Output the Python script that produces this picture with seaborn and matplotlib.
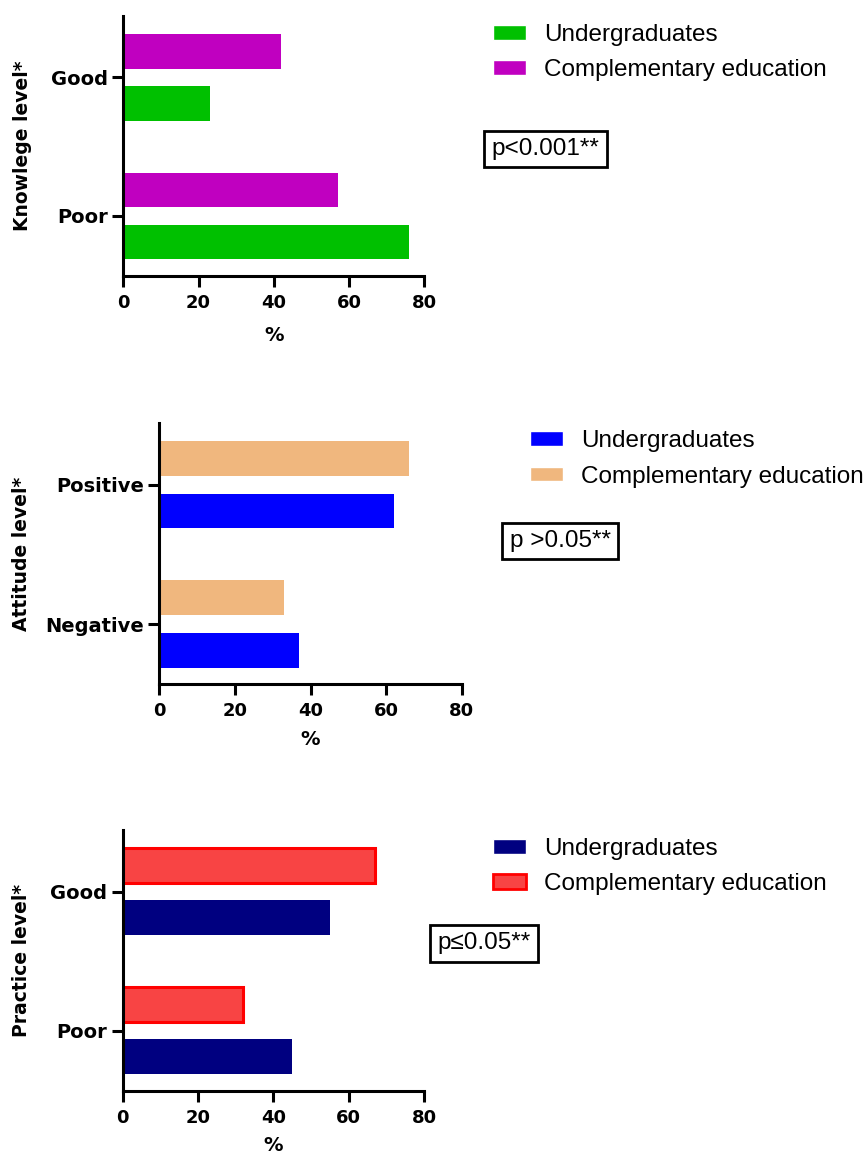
import matplotlib
matplotlib.use('Agg')
import matplotlib.pyplot as plt
import matplotlib.transforms as mtrans
from matplotlib.patches import Patch
import seaborn as sns
import pandas as pd

# values (%)
groups = ['Undergraduates', 'Complementary education']

knowledge_levels = ['Good', 'Poor']
knowledge_undergrad = [23, 76]
knowledge_complementary = [42, 57]

attitude_levels = ['Positive', 'Negative']
attitude_undergrad = [62, 37]
attitude_complementary = [66, 33]

practice_levels = ['Good', 'Poor']
practice_undergrad = [55, 45]
practice_complementary = [67, 32]

x_ticks = [0, 20, 40, 60, 80]
p_texts = ['p<0.001**', 'p >0.05**', 'p\u22640.05**']

sns.set_theme(style='ticks')
plt.rcParams['font.family'] = ['DejaVu Sans']
plt.rcParams['text.color'] = 'black'
plt.rcParams['axes.labelcolor'] = 'black'
plt.rcParams['xtick.color'] = 'black'
plt.rcParams['ytick.color'] = 'black'

W, H = 867, 1157
fig = plt.figure(figsize=(W / 100, H / 100), dpi=100)


def px_rect(l, t, r, b):
    return [l / W, 1 - b / H, (r - l) / W, (b - t) / H]


def draw_panel(rect, levels, ug, comp, ug_color, comp_color, ylabel,
               ylab_x, xlab_top, leg_x, leg_y, ptext, pbox_xy, comp_edge=None):
    ax = fig.add_axes(px_rect(*rect))
    df = pd.DataFrame({
        'level': levels * 2,
        'group': [groups[0]] * len(levels) + [groups[1]] * len(levels),
        'pct': ug + comp,
    })
    sns.barplot(data=df, x='pct', y='level', hue='group', order=levels,
                hue_order=[groups[1], groups[0]],
                palette={groups[0]: ug_color, groups[1]: comp_color},
                width=0.75, gap=0.33, saturation=1, linewidth=0,
                orient='h', legend=False, ax=ax)
    if comp_edge is not None:
        for bar in ax.containers[0]:
            bar.set_edgecolor(comp_edge)
            bar.set_linewidth(2.2)

    ax.set_xlim(0, 80)
    ax.set_ylim(1.433, -0.443)
    ax.set_xticks(x_ticks)
    sns.despine(ax=ax)
    for s in ['left', 'bottom']:
        ax.spines[s].set_linewidth(2.2)
        ax.spines[s].set_color('black')
    ax.tick_params(axis='both', width=2.2, length=8, color='black')
    ax.tick_params(axis='x', labelsize=13, pad=5)
    ax.tick_params(axis='y', labelsize=14, pad=3)
    for lab in ax.get_xticklabels() + ax.get_yticklabels():
        lab.set_fontweight('bold')

    ax.set_ylabel(ylabel, fontsize=13.5, fontweight='bold')
    cy = 1 - (rect[1] + rect[3]) / 2 / H
    ax.yaxis.set_label_coords(ylab_x / W, cy, transform=fig.transFigure)
    ax.set_xlabel('%', fontsize=14, fontweight='bold')
    blend = mtrans.blended_transform_factory(ax.transAxes, fig.transFigure)
    ax.xaxis.set_label_coords(0.5, 1 - xlab_top / H, transform=blend)

    if comp_edge is not None:
        comp_handle = Patch(facecolor=comp_color, edgecolor=comp_edge, linewidth=2)
    else:
        comp_handle = Patch(facecolor=comp_color)
    ax.legend(handles=[Patch(facecolor=ug_color), comp_handle], labels=groups,
              loc='center left', bbox_to_anchor=(leg_x / W, 1 - leg_y / H),
              bbox_transform=fig.transFigure, frameon=False,
              prop={'family': 'Liberation Sans', 'size': 17.5},
              handlelength=1.36, handleheight=0.56, handletextpad=0.74,
              labelspacing=0.55, borderpad=0, borderaxespad=0)

    fig.text(pbox_xy[0] / W, 1 - pbox_xy[1] / H, ptext, ha='center', va='center',
             fontsize=17.5, family='Liberation Sans',
             bbox=dict(boxstyle='square,pad=0.3', fc='white', ec='black', lw=2))
    return ax


draw_panel((123.3, 16, 424.3, 276), knowledge_levels, knowledge_undergrad,
           knowledge_complementary, '#00C000', '#C000C0', 'Knowlege level*',
           32, 326, 493, 52.5, p_texts[0], (545.5, 149))

draw_panel((159.3, 423.3, 461.7, 684.3), attitude_levels, attitude_undergrad,
           attitude_complementary, '#0000FF', '#F0B77E', 'Attitude level*',
           31, 730, 530, 459, p_texts[1], (560, 541))

draw_panel((122.7, 830, 424, 1091), practice_levels, practice_undergrad,
           practice_complementary, '#000080', '#F84444', 'Practice level*',
           31, 1136, 493, 866.5, p_texts[2], (484, 943.5), comp_edge='#FF0000')

fig.savefig('out.png', dpi=100)
